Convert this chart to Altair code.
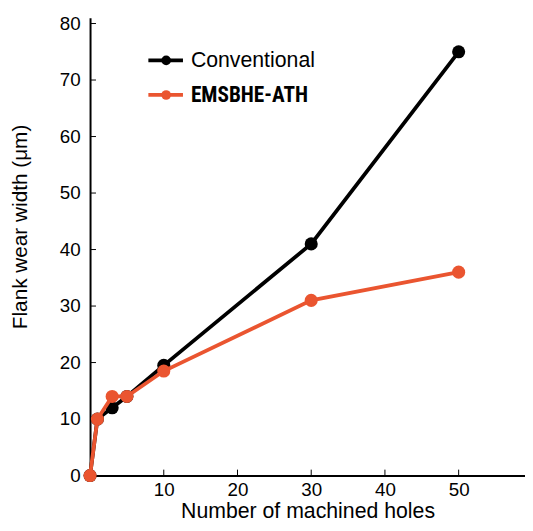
import altair as alt
import pandas as pd

holes = [0, 1, 3, 5, 10, 30, 50]
conventional = [0, 10, 12, 14, 19.5, 41, 75]
emsbhe = [0, 10, 14, 14, 18.5, 31, 36]
series_names = ["Conventional", "EMSBHE-ATH"]
series_colors = ["#000000", "#EA5530"]
legend_fonts = ["Liberation Sans", "Roboto Condensed, DejaVu Sans Condensed, Liberation Sans Narrow, Roboto"]
legend_weights = ["normal", "bold"]
x_ticks = [10, 20, 30, 40, 50]
y_ticks = [0, 10, 20, 30, 40, 50, 60, 70, 80]

W, H = 440, 463
xs = alt.Scale(domain=[0, 59], nice=False, zero=True)
ys = alt.Scale(domain=[0, 81], nice=False)

x_axis = alt.Axis(values=x_ticks, title="Number of machined holes", tickSize=0,
                  labelPadding=5, titlePadding=1, grid=False)
y_axis = alt.Axis(values=y_ticks, title="Flank wear width (μm)", tickSize=0,
                  labelPadding=10, titlePadding=29, titleY=211, grid=False)

layers = []
legend_layers = []
for k, (name, vals) in enumerate(zip(series_names, [conventional, emsbhe])):
    sub = pd.DataFrame({"holes": holes, "wear": vals})
    color = series_colors[k]
    base = alt.Chart(sub)
    line = base.mark_line(strokeWidth=3.8, color=color).encode(
        x=alt.X("holes:Q", scale=xs, axis=x_axis),
        y=alt.Y("wear:Q", scale=ys, axis=y_axis),
    )
    pts = base.mark_circle(size=175, color=color, opacity=1).encode(
        x=alt.X("holes:Q", scale=xs),
        y=alt.Y("wear:Q", scale=ys),
    )
    layers += [line, pts]

    # manual legend entry
    ly = 43 + 35 * k
    ldf = pd.DataFrame({"label": [name]})
    lb = alt.Chart(ldf)
    legend_layers += [
        lb.mark_rule(color=color, strokeWidth=3.8).encode(
            x=alt.value(59), x2=alt.value(94), y=alt.value(ly)),
        lb.mark_circle(size=95, color=color, opacity=1).encode(
            x=alt.value(77), y=alt.value(ly)),
        lb.mark_text(align="left", baseline="middle", fontSize=21.5,
                     font=legend_fonts[k], fontWeight=legend_weights[k],
                     color="black").encode(
            x=alt.value(102), y=alt.value(ly + 1), text="label:N"),
    ]

ytick_df = pd.DataFrame({"v": y_ticks})
xtick_df = pd.DataFrame({"v": x_ticks})
yt = alt.Chart(ytick_df).mark_rule(color="black", strokeWidth=1).encode(
    y=alt.Y("v:Q", scale=ys), x=alt.value(0), x2=alt.value(6))
xt = alt.Chart(xtick_df).mark_rule(color="black", strokeWidth=1).encode(
    x=alt.X("v:Q", scale=xs), y=alt.value(H), y2=alt.value(H - 6))

chart = alt.layer(yt, xt, *layers, *legend_layers).properties(
    width=W, height=H,
    autosize=alt.AutoSizeParams(type="none"),
    padding={"left": 83, "top": 7, "right": 0, "bottom": 45},
).configure_view(stroke=None).configure_axis(
    domainColor="black", domainWidth=2, labelColor="black", titleColor="black",
    labelFont="Liberation Sans", titleFont="Liberation Sans",
    labelFontSize=19, titleFontSize=21, titleFontWeight="normal",
).configure_axisX(titleFontSize=21.5)

chart.save("out.html", embed_options={"renderer": "svg", "actions": False})
